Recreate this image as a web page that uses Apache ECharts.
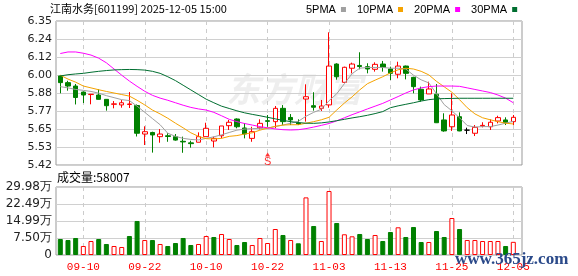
<!DOCTYPE html>
<html><head><meta charset="utf-8">
<script src="https://cdn.jsdelivr.net/npm/echarts@6/dist/echarts.min.js"></script>
<style>html,body{margin:0;padding:0;background:#fff}#c{width:578px;height:276px}</style>
</head><body><div id="c"></div>
<script>
const dates = ['09-05','09-08','09-09','09-10','09-11','09-12','09-15','09-16','09-17','09-18','09-19','09-22','09-23','09-24','09-25','09-26','09-29','09-30','10-09','10-10','10-13','10-14','10-15','10-16','10-17','10-20','10-21','10-22','10-23','10-24','10-27','10-28','10-29','10-30','10-31','11-03','11-04','11-05','11-06','11-07','11-10','11-11','11-12','11-13','11-14','11-17','11-18','11-19','11-20','11-21','11-24','11-25','11-26','11-27','11-28','12-01','12-02','12-03','12-04','12-05'];
const openP  = [5.995,5.952,5.930,5.891,5.875,5.872,5.844,5.812,5.808,5.811,5.804,5.620,5.630,5.603,5.609,5.603,5.573,5.563,5.567,5.603,5.575,5.609,5.674,5.717,5.659,5.592,5.660,5.706,5.700,5.786,5.727,5.691,5.846,5.803,5.786,5.808,6.072,5.954,6.045,6.063,6.055,6.038,6.072,6.040,6.006,6.059,5.986,5.909,5.879,5.877,5.711,5.667,5.732,5.645,5.625,5.672,5.667,5.704,5.711,5.700];
const closeP = [5.952,5.930,5.856,5.872,5.877,5.844,5.803,5.815,5.822,5.814,5.625,5.635,5.614,5.620,5.604,5.581,5.569,5.558,5.603,5.657,5.592,5.672,5.696,5.667,5.620,5.635,5.689,5.702,5.786,5.700,5.711,5.685,5.861,5.793,5.801,6.059,5.990,6.051,6.072,6.056,6.040,6.070,6.051,6.012,6.059,6.012,5.926,5.840,5.911,5.693,5.640,5.743,5.640,5.645,5.663,5.676,5.696,5.726,5.693,5.728];
const lowP   = [5.883,5.900,5.811,5.820,5.812,5.843,5.771,5.786,5.790,5.788,5.604,5.549,5.500,5.564,5.570,5.577,5.499,5.532,5.567,5.603,5.534,5.592,5.646,5.657,5.592,5.570,5.650,5.667,5.657,5.678,5.678,5.678,5.700,5.771,5.769,5.790,5.971,5.952,6.012,6.038,6.012,6.023,6.023,5.969,5.980,5.973,5.883,5.829,5.879,5.691,5.635,5.640,5.638,5.620,5.607,5.663,5.646,5.689,5.678,5.678];
const highP  = [5.999,5.964,5.943,5.895,5.879,5.909,5.846,5.833,5.840,5.891,5.811,5.670,5.635,5.652,5.625,5.620,5.603,5.577,5.631,5.693,5.603,5.672,5.711,5.721,5.691,5.667,5.715,5.743,5.801,5.807,5.749,5.715,5.941,5.890,5.840,6.277,6.077,6.055,6.081,6.148,6.077,6.083,6.092,6.055,6.087,6.062,5.990,5.926,5.958,5.943,5.754,5.883,5.760,5.661,5.678,5.696,5.715,5.738,5.728,5.743];
const volume = [70500,66000,75000,39700,61700,70500,48500,39700,35300,83800,150000,66000,66000,48500,39700,52900,75000,44100,48500,83800,79400,92600,70500,44100,57300,44100,75000,52900,114600,88200,66000,51600,254000,127900,61700,282200,141100,91300,82400,92600,70500,88200,61700,101400,122100,79400,123500,57300,57300,105800,79400,163100,114600,66000,66000,61700,61700,61700,39700,58007];
const ma5  = [5.926,5.918,5.908,5.902,5.895,5.884,5.868,5.855,5.842,5.836,5.800,5.760,5.720,5.680,5.625,5.605,5.592,5.585,5.582,5.592,5.602,5.615,5.630,5.645,5.652,5.655,5.657,5.658,5.668,5.678,5.690,5.702,5.735,5.760,5.780,5.835,5.880,5.945,6.010,6.045,6.050,6.050,6.050,6.045,6.045,6.040,6.000,5.970,5.950,5.880,5.810,5.770,5.725,5.675,5.665,5.668,5.668,5.678,5.690,5.702];
const ma10 = [6.000,5.975,5.955,5.930,5.918,5.906,5.895,5.885,5.875,5.865,5.838,5.808,5.775,5.750,5.722,5.690,5.660,5.628,5.605,5.590,5.588,5.592,5.605,5.610,5.620,5.628,5.645,5.658,5.670,5.678,5.680,5.680,5.690,5.700,5.712,5.728,5.775,5.820,5.860,5.905,5.945,5.968,5.990,6.015,6.035,6.045,6.040,6.025,6.002,5.960,5.925,5.890,5.842,5.790,5.750,5.725,5.712,5.700,5.690,5.685];
const ma20 = [6.140,6.150,6.150,6.142,6.130,6.110,6.080,6.040,6.000,5.962,5.928,5.896,5.870,5.852,5.838,5.822,5.806,5.792,5.782,5.775,5.760,5.738,5.715,5.700,5.688,5.678,5.668,5.660,5.653,5.648,5.646,5.648,5.655,5.665,5.676,5.688,5.705,5.725,5.745,5.763,5.782,5.800,5.818,5.840,5.862,5.885,5.905,5.918,5.926,5.930,5.930,5.930,5.928,5.918,5.908,5.898,5.888,5.872,5.852,5.822];
const ma30 = [5.995,6.003,6.008,6.012,6.019,6.025,6.030,6.034,6.036,6.037,6.036,6.033,6.025,6.012,5.990,5.965,5.935,5.905,5.875,5.845,5.822,5.800,5.785,5.770,5.757,5.747,5.738,5.728,5.718,5.708,5.700,5.694,5.690,5.689,5.692,5.698,5.706,5.715,5.724,5.732,5.741,5.752,5.765,5.790,5.802,5.812,5.822,5.833,5.842,5.847,5.849,5.850,5.851,5.851,5.851,5.851,5.851,5.851,5.851,5.851];
const prevClose = 6.00;
const priceTicks = ['5.42','5.53','5.65','5.77','5.88','6.00','6.12','6.24','6.35'];
const volTicks = ['0','7.50万','14.99万','22.49万','29.98万'];
const maNames = ['5PMA','10PMA','20PMA','30PMA'];
const signalDates = ['10-22'];
const signalPrices = [5.488];
const titleText = '江南水务[601199] 2025-12-05 15:00';
const volLabel = '成交量';

const RED = '#ff0000', GREEN = '#008000';
const maColors = ['#a0a0a0','#f5a300','#ff00ff','#006e30'];
const firstLabel = dates.indexOf('09-10');
const labelEvery = 8;
const showIdx = (i) => (i - firstLabel) % labelEvery === 0;

const candleData = dates.map((d, i) => [openP[i], closeP[i], lowP[i], highP[i]]);
const volData = volume.map((v, i) => {
  const pc = i === 0 ? prevClose : closeP[i - 1];
  const up = closeP[i] >= pc;
  return { value: v, itemStyle: up ? { color: '#ffffff', borderColor: RED, borderWidth: 1 } : { color: GREEN, borderColor: GREEN, borderWidth: 1 } };
});
const signalData = signalDates.map((d, k) => [dates.indexOf(d), signalPrices[k]]);
const volMax = parseFloat(volTicks[volTicks.length - 1]) * 10000;

const labelFont = 'DejaVu Sans';
const chart = echarts.init(document.getElementById('c'), null, { renderer: 'canvas' });
const maSeries = [ma5, ma10, ma20, ma30].map((arr, k) => ({
  name: maNames[k], type: 'line', xAxisIndex: 0, yAxisIndex: 0, data: arr,
  symbol: 'none', smooth: false, clip: false, z: 3,
  lineStyle: { width: 1, color: maColors[k] }, itemStyle: { color: maColors[k] }
}));

chart.setOption({
  animation: false,
  backgroundColor: '#ffffff',
  title: [
    { text: titleText, left: 50, top: 3, padding: 0, textStyle: { fontSize: 11, fontWeight: 'normal', color: '#000', fontFamily: 'Noto Sans CJK SC' } },
    { text: volLabel + ':' + volume[volume.length - 1], left: 57, top: 171, padding: 0, textStyle: { fontSize: 12, fontWeight: 'normal', color: '#000', fontFamily: 'Noto Sans CJK SC' } }
  ],
  legend: {
    data: maNames.map((n, k) => ({ name: n, icon: 'rect' })),
    left: 306, top: 4, padding: 0, itemWidth: 5, itemHeight: 5, itemGap: 11, align: 'right',
    selectedMode: false,
    textStyle: { fontSize: 11, color: '#000', fontFamily: 'Liberation Sans Narrow, Liberation Sans' }
  },
  graphic: [
    { type: 'text', left: 226, top: 72, silent: true, z: -10, style: { text: '东方财富', fill: 'rgba(200,200,200,0.3)', font: 'italic bold 34px "Noto Sans CJK SC"' } },
    { type: 'text', left: 455, top: 251, silent: true, z: 100, style: { text: 'www.365jz.com', fill: '#2b4a8a', font: 'bold 17px "Liberation Serif"' } }
  ],
  grid: [
    { left: 60.3, top: 21, width: 453, height: 144 },
    { left: 60.3, top: 187, width: 453, height: 68 },
    { left: 56, top: 21, width: 466, height: 144, show: true, borderColor: '#999', borderWidth: 1, backgroundColor: 'transparent' },
    { left: 56, top: 187, width: 466, height: 68, show: true, borderColor: '#999', borderWidth: 1, backgroundColor: 'transparent' }
  ],
  xAxis: [
    { type: 'category', gridIndex: 0, data: dates, boundaryGap: false, axisLine: { show: false }, axisTick: { show: false }, axisLabel: { show: false },
      splitLine: { show: true, interval: (i) => showIdx(i), lineStyle: { color: '#cccccc', type: [4, 4], width: 1 } } },
    { type: 'category', gridIndex: 1, data: dates, boundaryGap: false, axisLine: { show: false }, axisTick: { show: false },
      axisLabel: { show: true, interval: (i) => showIdx(i), color: RED, fontSize: 11, fontFamily: 'Liberation Mono', margin: 7 },
      splitLine: { show: true, interval: (i) => showIdx(i), lineStyle: { color: '#cccccc', type: [4, 4], width: 1 } } },
    { type: 'value', gridIndex: 2, show: false, min: 0, max: 1 },
    { type: 'value', gridIndex: 3, show: false, min: 0, max: 1 }
  ],
  yAxis: [
    { type: 'value', gridIndex: 0, show: false, min: parseFloat(priceTicks[0]), max: parseFloat(priceTicks[priceTicks.length - 1]), splitLine: { show: false } },
    { type: 'value', gridIndex: 1, show: false, min: 0, max: volMax, splitLine: { show: false } },
    { type: 'value', gridIndex: 2, min: 0, max: priceTicks.length - 1, interval: 1,
      axisLine: { show: false }, axisTick: { show: false },
      axisLabel: { formatter: (v) => priceTicks[Math.round(v)], color: '#222', fontSize: 11, fontFamily: labelFont, margin: 4 },
      splitLine: { show: true, lineStyle: { color: '#d0d0d0', width: 1 } } },
    { type: 'value', gridIndex: 3, min: 0, max: volTicks.length - 1, interval: 1,
      axisLine: { show: false }, axisTick: { show: false },
      axisLabel: { formatter: (v) => volTicks[Math.round(v)], color: '#222', fontSize: 12, fontFamily: labelFont, margin: 4 },
      splitLine: { show: true, lineStyle: { color: '#d0d0d0', width: 1 } } }
  ],
  series: [
    { type: 'candlestick', xAxisIndex: 0, yAxisIndex: 0, data: candleData, barWidth: 5, clip: false, z: 2,
      itemStyle: { color: '#ffffff', color0: GREEN, borderColor: RED, borderColor0: GREEN, borderColorDoji: '#000000', borderWidth: 1 } },
    ...maSeries,
    { type: 'bar', xAxisIndex: 1, yAxisIndex: 1, data: volData, barWidth: 5, clip: false },
    { type: 'scatter', xAxisIndex: 0, yAxisIndex: 0, data: signalData, symbol: 'triangle', symbolSize: [5, 4], clip: false,
      itemStyle: { color: RED },
      label: { show: true, formatter: 'S', position: 'bottom', distance: 0, color: RED, fontSize: 11, fontFamily: 'Liberation Sans' } }
  ]
});
</script>
</body></html>
